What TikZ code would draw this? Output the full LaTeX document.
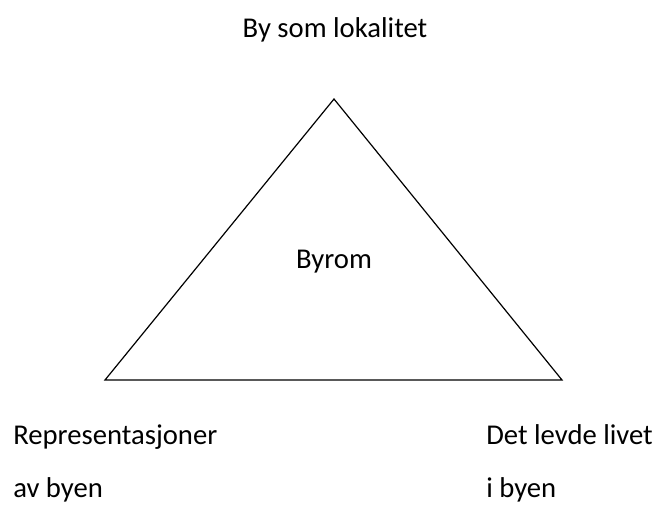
\documentclass[tikz,border=0pt]{standalone}
\usepackage{fontspec}
\setmainfont{Carlito}
\usepackage{tikz}

\begin{document}
\begin{tikzpicture}[x=0.75pt,y=-0.75pt,
  label/.style={font=\fontsize{21.5}{26}\selectfont,inner sep=0pt}]
\useasboundingbox (0,0) rectangle (659,511);
\coordinate (top) at (334,99);
\coordinate (left) at (105,380);
\coordinate (right) at (562,380);
\draw [line width=0.9pt] (top) -- (left) -- (right) -- cycle;
\node [label,anchor=base] (locality) at (335,37) {By som lokalitet};
\node [label,anchor=base] (byrom) at (334,268) {Byrom};
\node [label,anchor=base west] (repr) at (13,444) {Representasjoner};
\node [label,anchor=base west] (reprb) at (13,497) {av byen};
\node [label,anchor=base west] (lived) at (486,444) {Det levde livet};
\node [label,anchor=base west] (livedb) at (486,497) {i byen};
\end{tikzpicture}
\end{document}
